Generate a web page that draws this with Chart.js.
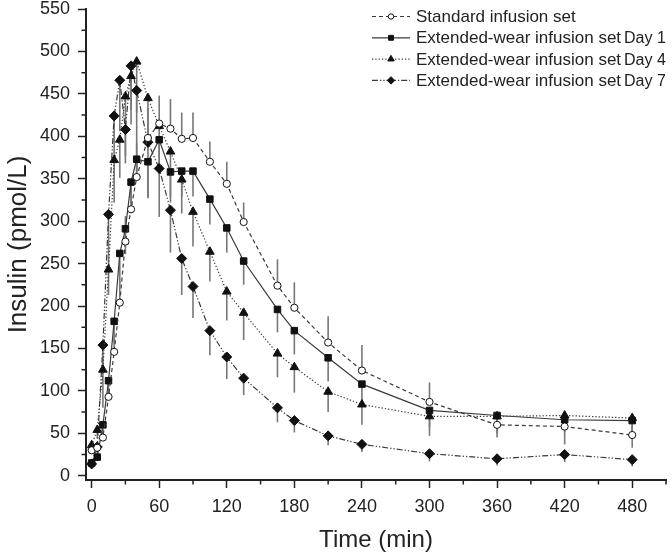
<!DOCTYPE html>
<html>
<head>
<meta charset="utf-8">
<script src="https://cdn.jsdelivr.net/npm/chart.js@4.4.1/dist/chart.umd.min.js"></script>
<style>
  html, body { margin: 0; padding: 0; background: #fff; }
  canvas { display: block; }
</style>
</head>
<body>
<canvas id="insulinChart" width="672" height="555"></canvas>
<script>
// tiempos de muestreo (min)
const tiempos = [0, 5, 10, 15, 20, 25, 30, 35, 40, 50, 60, 70, 80, 90, 105, 120, 135, 165, 180, 210, 240, 300, 360, 420, 480];

// insulina (pmol/L) por serie
const standardSet = [30, 33, 45, 93, 146, 204, 276, 314, 352, 398, 415, 409, 397, 398, 370, 344, 299, 224, 198, 157, 124, 87, 60, 58, 48];
const extDay1 = [15, 22, 60, 112, 182, 262, 291, 346, 373, 370, 396, 358, 359, 359, 326, 292, 253, 196, 171, 139, 108, 77, 71, 66, 65];
const extDay4 = [36, 54, 125, 243, 372, 396, 447, 471, 488, 445, 412, 382, 349, 311, 264, 217, 192, 144, 128, 99, 84, 70, 70, 71, 68];
const extDay7 = [14, 34, 154, 308, 424, 466, 408, 483, 454, 393, 362, 313, 256, 223, 171, 140, 115, 80, 65, 47, 37, 26, 20, 25, 19];

// barras de error (una sola dirección)
const errStandard = [3, 4, 6, 10, 15, 25, 30, 35, 40, 35, 33, 35, 31, 30, 24, 26, 23, 31, 30, 31, 30, 23, 10, 6, 10];
const errDay1 = [3, 5, 10, 20, 25, 35, 30, 25, 17, 42, 40, 30, 30, 30, 30, 29, 28, 27, 28, 28, 27, 20, 26, 15, 15];
const errDay4 = [5, 10, 45, 30, 50, 45, 70, 40, 60, 60, 50, 60, 40, 41, 35, 34, 32, 28, 30, 24, 24, 23, 20, 34, 35];
const errDay7 = [5, 8, 30, 70, 55, 60, 40, 69, 95, 66, 57, 50, 43, 37, 29, 26, 20, 17, 14, 11, 9, 9, 8, 9, 8];

const nombres = ["Standard infusion set", "Extended-wear infusion set", "Extended-wear infusion set", "Extended-wear infusion set"];
const dias = ["", "Day 1", "Day 4", "Day 7"];

const xTicks = [0, 60, 120, 180, 240, 300, 360, 420, 480];
const yTicks = [0, 50, 100, 150, 200, 250, 300, 350, 400, 450, 500, 550];
const xMinor = [30, 90, 150, 210, 270, 330, 390, 450, 510];
const yMinor = [25, 75, 125, 175, 225, 275, 325, 375, 425, 475, 525];

const FUENTE = '"Liberation Sans", Arial, sans-serif';
Chart.defaults.font.family = FUENTE;
Chart.defaults.color = "#222";

const puntos = (vals) => tiempos.map((t, i) => ({ x: t, y: vals[i] }));

function serie(label, vals, errs, lado, dash, estilo, radio, relleno) {
    return {
        label,
        data: puntos(vals),
        errores: errs,
        lado: lado,
        borderColor: "#3a3a3a",
        borderWidth: 1.2,
        borderDash: dash,
        pointStyle: estilo,
        pointRadius: radio,
        pointBackgroundColor: relleno,
        pointBorderColor: "#111",
        pointBorderWidth: 1,
        tension: 0,
        fill: false,
    };
}

const barrasError = {
    id: "barrasError",
    beforeDatasetsDraw(chart) {
        const ctx = chart.ctx;
        const { x, y } = chart.scales;
        ctx.save();
        ctx.strokeStyle = "#777";
        ctx.lineWidth = 1.6;
        chart.data.datasets.forEach((ds) => {
            ds.data.forEach((p, i) => {
                const px = x.getPixelForValue(p.x);
                ctx.beginPath();
                ctx.moveTo(px, y.getPixelForValue(p.y));
                ctx.lineTo(px, y.getPixelForValue(p.y + ds.errores[i] * ds.lado));
                ctx.stroke();
            });
        });
        ctx.restore();
    },
};

const ticksMenores = {
    id: "ticksMenores",
    afterDraw(chart) {
        const ctx = chart.ctx;
        const { x, y } = chart.scales;
        ctx.save();
        ctx.strokeStyle = "#222";
        ctx.lineWidth = 1.5;
        ctx.beginPath();
        xMinor.forEach((v) => {
            const px = x.getPixelForValue(v);
            ctx.moveTo(px, y.bottom);
            ctx.lineTo(px, y.bottom + 4.5);
        });
        yMinor.forEach((v) => {
            const py = y.getPixelForValue(v);
            ctx.moveTo(x.left, py);
            ctx.lineTo(x.left - 4.5, py);
        });
        ctx.stroke();
        ctx.restore();
    },
};

const leyenda = {
    id: "leyenda",
    afterDraw(chart) {
        const ctx = chart.ctx;
        chart.data.datasets.forEach((ds, i) => {
            const yy = 16.5 + i * 21.3;
            ctx.save();
            ctx.strokeStyle = ds.borderColor;
            ctx.lineWidth = ds.borderWidth;
            ctx.setLineDash(ds.borderDash);
            ctx.beginPath();
            ctx.moveTo(372, yy);
            ctx.lineTo(410, yy);
            ctx.stroke();
            ctx.setLineDash([]);
            ctx.fillStyle = ds.pointBackgroundColor;
            ctx.strokeStyle = ds.pointBorderColor;
            ctx.lineWidth = 1;
            Chart.helpers.drawPoint(ctx, { pointStyle: ds.pointStyle, radius: ds.pointRadius * 0.75, rotation: 0, borderWidth: 1 }, 391, yy);
            ctx.fillStyle = "#222";
            ctx.textBaseline = "middle";
            ctx.font = "17px " + FUENTE;
            ctx.fillText(nombres[i], 416, yy + 1);
            if (dias[i]) {
                const w = ctx.measureText(nombres[i]).width;
                ctx.font = "16px " + FUENTE;
                ctx.fillText(dias[i], 416 + w + 3, yy + 1);
            }
            ctx.restore();
        });
    },
};

const ctx = document.getElementById("insulinChart").getContext("2d");

new Chart(ctx, {
    type: "line",
    data: {
        datasets: [
            serie("Standard infusion set", standardSet, errStandard, 1, [4, 3], "circle", 3.6, "#fff"),
            serie("Extended-wear infusion set Day 1", extDay1, errDay1, -1, [], "rect", 4.6, "#111"),
            serie("Extended-wear infusion set Day 4", extDay4, errDay4, -1, [1.3, 2], "triangle", 5, "#111"),
            serie("Extended-wear infusion set Day 7", extDay7, errDay7, -1, [6, 2, 1.3, 2, 1.3, 2], "rectRot", 5, "#111"),
        ],
    },
    options: {
        responsive: false,
        animation: false,
        layout: { padding: { top: 0, right: 2, left: 0, bottom: 0 } },
        plugins: {
            legend: { display: false },
            tooltip: { enabled: false },
        },
        scales: {
            x: {
                type: "linear",
                min: -5,
                max: 510,
                afterBuildTicks: (s) => { s.ticks = xTicks.map((v) => ({ value: v })); },
                afterFit: (s) => { s.height = 75; s.paddingLeft = 0; s.paddingRight = 0; },
                grid: { drawOnChartArea: false, tickLength: 8, tickWidth: 1.5, tickColor: "#222" },
                border: { display: true, color: "#222", width: 2 },
                ticks: { font: { size: 18 }, padding: 8, maxRotation: 0 },
                title: { display: true, text: "Time (min)", font: { size: 24 }, padding: { top: 0, bottom: 0 } },
            },
            y: {
                type: "linear",
                min: -5,
                max: 550,
                afterBuildTicks: (s) => { s.ticks = yTicks.map((v) => ({ value: v })); },
                afterFit: (s) => { s.width = 86; s.paddingTop = 9; s.paddingBottom = 0; },
                grid: { drawOnChartArea: false, tickLength: 8, tickWidth: 1.5, tickColor: "#222" },
                border: { display: true, color: "#222", width: 2 },
                ticks: { font: { size: 18 }, padding: 8 },
                title: { display: true, text: "Insulin (pmol/L)", font: { size: 26 }, padding: { top: 3, bottom: 0 } },
            },
        },
    },
    plugins: [barrasError, ticksMenores, leyenda],
});
</script>
</body>
</html>
